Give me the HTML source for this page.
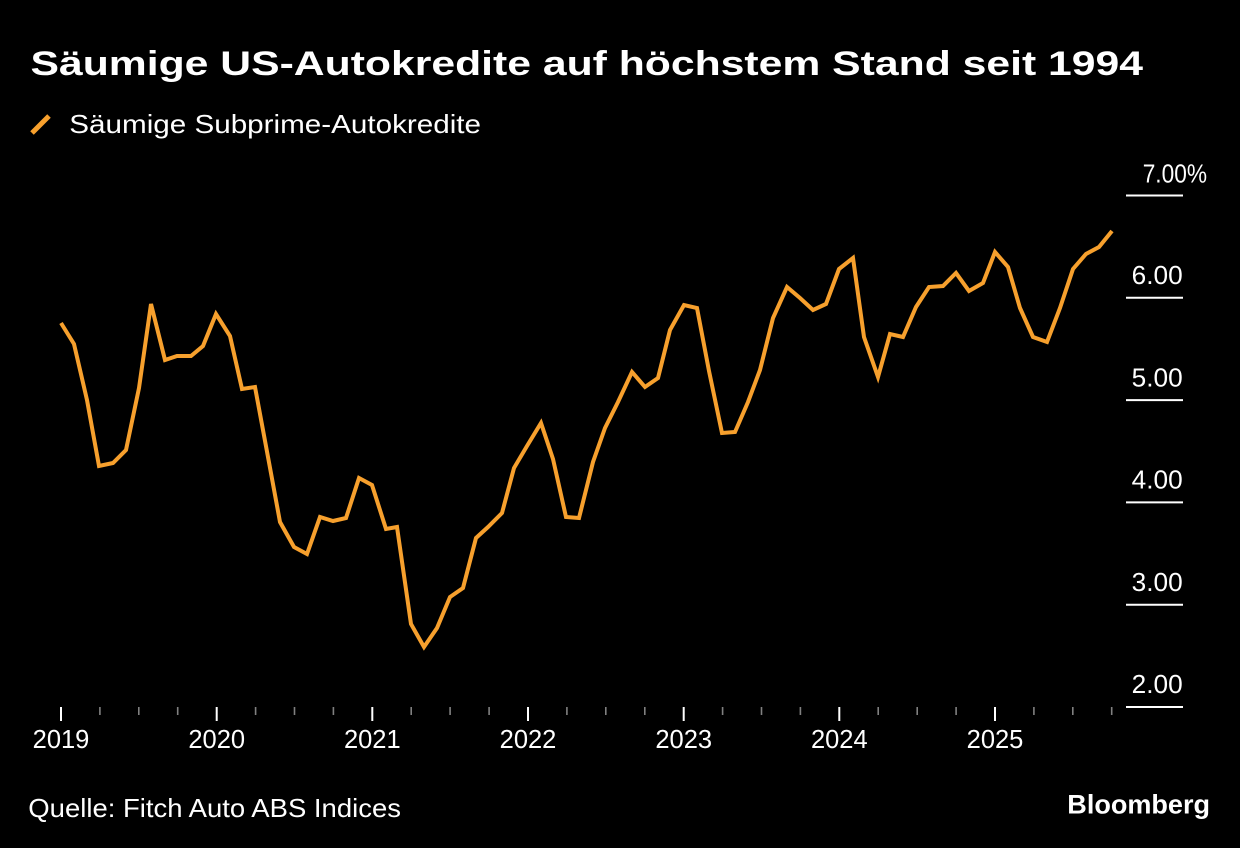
<!DOCTYPE html>
<html>
<head>
<meta charset="utf-8">
<style>
html,body{margin:0;padding:0;background:#000;}
svg{display:block;}
text{font-family:"Liberation Sans",sans-serif;fill:#fff;}
</style>
</head>
<body>
<svg width="1240" height="848" viewBox="0 0 1240 848" xmlns="http://www.w3.org/2000/svg">
<rect width="1240" height="848" fill="#000"/>
<text x="30.5" y="75" font-size="34.5" font-weight="bold" textLength="1112.5" lengthAdjust="spacingAndGlyphs">Säumige US-Autokredite auf höchstem Stand seit 1994</text>
<line x1="32" y1="133" x2="49" y2="116" stroke="#F7A02D" stroke-width="5"/>
<text x="69.3" y="133" font-size="26" textLength="411.7" lengthAdjust="spacingAndGlyphs">Säumige Subprime-Autokredite</text>

<!-- y grid marks -->
<g stroke="#fff" stroke-width="2">
<line x1="1126" y1="195.5" x2="1183" y2="195.5"/>
<line x1="1126" y1="297.8" x2="1183" y2="297.8"/>
<line x1="1126" y1="400.1" x2="1183" y2="400.1"/>
<line x1="1126" y1="502.4" x2="1183" y2="502.4"/>
<line x1="1126" y1="604.7" x2="1183" y2="604.7"/>
<line x1="1126" y1="707" x2="1183" y2="707"/>
</g>
<g font-size="26">
<text x="1142.7" y="182.5" textLength="64.3" lengthAdjust="spacingAndGlyphs">7.00%</text>
<text x="1131.7" y="284" textLength="51" lengthAdjust="spacingAndGlyphs">6.00</text>
<text x="1131.7" y="386.3" textLength="51" lengthAdjust="spacingAndGlyphs">5.00</text>
<text x="1131.7" y="488.6" textLength="51" lengthAdjust="spacingAndGlyphs">4.00</text>
<text x="1131.7" y="590.9" textLength="51" lengthAdjust="spacingAndGlyphs">3.00</text>
<text x="1131.7" y="693.2" textLength="51" lengthAdjust="spacingAndGlyphs">2.00</text>
</g>

<!-- x ticks -->
<g stroke="#fff" stroke-width="2">
<line x1="61" y1="707" x2="61" y2="721"/>
<line x1="216.7" y1="707" x2="216.7" y2="721"/>
<line x1="372.3" y1="707" x2="372.3" y2="721"/>
<line x1="528" y1="707" x2="528" y2="721"/>
<line x1="683.7" y1="707" x2="683.7" y2="721"/>
<line x1="839.3" y1="707" x2="839.3" y2="721"/>
<line x1="995" y1="707" x2="995" y2="721"/>
</g>
<g stroke="#808080" stroke-width="1.6">
<line x1="99.9" y1="707" x2="99.9" y2="715"/>
<line x1="138.8" y1="707" x2="138.8" y2="715"/>
<line x1="177.7" y1="707" x2="177.7" y2="715"/>
<line x1="255.6" y1="707" x2="255.6" y2="715"/>
<line x1="294.5" y1="707" x2="294.5" y2="715"/>
<line x1="333.4" y1="707" x2="333.4" y2="715"/>
<line x1="411.2" y1="707" x2="411.2" y2="715"/>
<line x1="450.1" y1="707" x2="450.1" y2="715"/>
<line x1="489.1" y1="707" x2="489.1" y2="715"/>
<line x1="566.9" y1="707" x2="566.9" y2="715"/>
<line x1="605.8" y1="707" x2="605.8" y2="715"/>
<line x1="644.8" y1="707" x2="644.8" y2="715"/>
<line x1="722.6" y1="707" x2="722.6" y2="715"/>
<line x1="761.5" y1="707" x2="761.5" y2="715"/>
<line x1="800.4" y1="707" x2="800.4" y2="715"/>
<line x1="878.2" y1="707" x2="878.2" y2="715"/>
<line x1="917.2" y1="707" x2="917.2" y2="715"/>
<line x1="956.1" y1="707" x2="956.1" y2="715"/>
<line x1="1033.9" y1="707" x2="1033.9" y2="715"/>
<line x1="1072.8" y1="707" x2="1072.8" y2="715"/>
<line x1="1111.7" y1="707" x2="1111.7" y2="715"/>
</g>
<g font-size="26" text-anchor="middle">
<text x="61" y="748" textLength="56.7" lengthAdjust="spacingAndGlyphs">2019</text>
<text x="216.7" y="748" textLength="56.7" lengthAdjust="spacingAndGlyphs">2020</text>
<text x="372.3" y="748" textLength="56.7" lengthAdjust="spacingAndGlyphs">2021</text>
<text x="528" y="748" textLength="56.7" lengthAdjust="spacingAndGlyphs">2022</text>
<text x="683.7" y="748" textLength="56.7" lengthAdjust="spacingAndGlyphs">2023</text>
<text x="839.3" y="748" textLength="56.7" lengthAdjust="spacingAndGlyphs">2024</text>
<text x="995" y="748" textLength="56.7" lengthAdjust="spacingAndGlyphs">2025</text>
</g>

<!-- data line -->
<polyline fill="none" stroke="#F7A02D" stroke-width="4" stroke-linejoin="miter" stroke-linecap="butt" points="
61,323 74,344 87,400 99,466 113,463 126,450 139,388 151,304 165,360 177,356 191,356 203,346
216,314 230,336 242,389 255,387 268,457 280,522 294,547 307,554 320,517 333,521 346,518 359,478
372,485 386,529 397,527 411,624 424,647 437,628 450,597 463,588 476,538 488,527 502,513 514,468
527,446 541,423 553,459 566,517 579,518 593,462 605,428 618,402 632,372 645,387 658,378 670,330
684,305 697,308 709,371 722,433 735,432 748,402 760,370 773,318 787,287 800,298 813,310 826,304
839,269 853,258 864,337 878,377 890,334 903,337 916,307 929,287 943,286 956,273 969,291 983,283
995,252 1008,267 1020,308 1033,337 1047,342 1060,308 1073,269 1086,254 1099,247 1112,231"/>

<text x="28.3" y="817" font-size="26" textLength="372.7" lengthAdjust="spacingAndGlyphs">Quelle: Fitch Auto ABS Indices</text>
<text x="1067.3" y="813.5" font-size="27" font-weight="bold" textLength="142.7" lengthAdjust="spacingAndGlyphs">Bloomberg</text>
</svg>
</body>
</html>
